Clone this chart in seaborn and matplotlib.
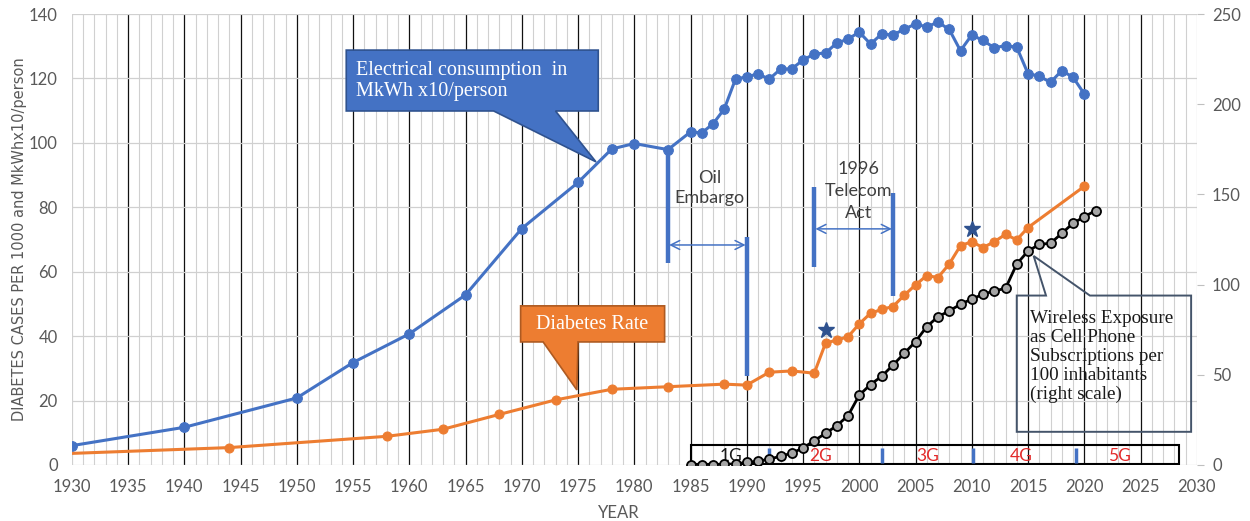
import numpy as np
import matplotlib
matplotlib.use("Agg")
import matplotlib.pyplot as plt
from matplotlib.patches import Polygon, Rectangle
import seaborn as sns

# electrical consumption (MkWh x10/person), left axis
elec_years = [1930, 1940, 1950, 1955, 1960, 1965, 1970, 1975, 1978, 1980, 1983,
              1985, 1986, 1987, 1988, 1989, 1990, 1991, 1992, 1993, 1994, 1995,
              1996, 1997, 1998, 1999, 2000, 2001, 2002, 2003, 2004, 2005, 2006,
              2007, 2008, 2009, 2010, 2011, 2012, 2013, 2014, 2015, 2016, 2017,
              2018, 2019, 2020]
elec_vals = [6.0, 11.7, 20.8, 31.8, 40.7, 52.8, 73.4, 87.7, 98.1, 99.8, 97.9,
             103.4, 103.1, 105.9, 110.5, 119.8, 120.5, 121.4, 119.8, 122.9, 123.0, 125.7,
             127.6, 127.9, 131.0, 132.2, 134.4, 130.7, 133.8, 133.5, 135.3, 136.9, 136.0,
             137.5, 135.2, 128.6, 133.5, 131.8, 129.5, 130.2, 129.7, 121.5, 120.7, 118.8,
             122.4, 120.4, 115.2]

# diabetes cases per 1000, left axis
diab_years = [1930, 1944, 1958, 1963, 1968, 1973, 1978, 1983, 1988, 1990, 1992,
              1994, 1996, 1997, 1998, 1999, 2000, 2001, 2002, 2003, 2004, 2005,
              2006, 2007, 2008, 2009, 2010, 2011, 2012, 2013, 2014, 2015, 2020]
diab_vals = [3.6, 5.4, 8.9, 11.1, 15.7, 20.2, 23.5, 24.3, 25.1, 24.8, 28.8,
             29.2, 28.5, 37.8, 38.8, 39.8, 43.8, 47.1, 48.3, 49.2, 52.7, 55.9,
             58.8, 58.2, 62.4, 68.1, 69.3, 67.5, 69.3, 71.6, 69.9, 73.7, 86.5]

# cell phone subscriptions per 100 inhabitants, right axis
cell_years = list(range(1985, 2022))
cell_vals = [0, 0, 0, 0.5, 0.5, 1.5, 2, 3.3, 4.8, 6.6, 9.4, 13.5, 17.5, 21.8,
             27.3, 38.7, 44.6, 49.2, 55.4, 61.9, 68.4, 76.7, 82.2, 85.4, 89.1,
             92.0, 94.6, 96.5, 97.9, 111.4, 118.6, 122.3, 122.9, 128.4, 134.0,
             137.6, 141.0]

# generations strip
gen_labels = ["1G", "2G", "3G", "4G", "5G"]
gen_label_x = [1988.6, 1996.6, 2006.1, 2014.4, 2023.1]
gen_colors = ["#1a1a1a", "#E32B2B", "#E32B2B", "#E32B2B", "#E32B2B"]
gen_breaks = [1992, 2002, 2010.1, 2019.3]
gen_span = [1985, 2028.4]

# event markers
oil_years = [1983, 1990]
telecom_years = [1996, 2003]
star_years = [1997, 2010]
star_vals = [41.9, 73.2]

BLUE = "#4472C4"
ORANGE = "#ED7D31"
TICK_GRAY = "#595959"

sns.set_theme(style="white")
plt.rcParams['font.family'] = ['Lato', 'DejaVu Sans']

fig = plt.figure(figsize=(12.5, 5.21), dpi=100)
ax = fig.add_axes([0.0574, 0.1075, 0.9, 0.8656])
ax2 = ax.twinx()

ax.set_xlim(1930, 2030)
ax.set_ylim(0, 140)
ax2.set_ylim(0, 250)

# grid: minor every year, major every 5 years black
ax.set_xticks(np.arange(1930, 2031, 5))
ax.set_xticks(np.arange(1930, 2031, 1), minor=True)
ax.set_yticks(np.arange(0, 141, 20))
ax2.set_yticks(np.arange(0, 251, 50))
ax.grid(which="minor", axis="x", color="#D0D0D0", linewidth=0.8)
ax.grid(which="major", axis="x", color="#111111", linewidth=0.9)
ax.grid(which="major", axis="y", color="#D0D0D0", linewidth=0.9)
gl = ax.get_xgridlines()
gl[0].set_color("#D0D0D0")
gl[-1].set_color("#D0D0D0")
ax.set_axisbelow(True)
for a in (ax, ax2):
    for s in a.spines.values():
        s.set_visible(False)

ax.tick_params(axis="x", which="both", length=0, pad=10, labelsize=12, labelcolor=TICK_GRAY)
ax.tick_params(axis="y", length=0, pad=10, labelsize=12, labelcolor=TICK_GRAY)
ax2.tick_params(axis="y", length=5, width=0.8, color="#BFBFBF", pad=6,
                labelsize=12, labelcolor=TICK_GRAY, right=True)

ax.set_xlabel("YEAR", fontsize=12, color=TICK_GRAY)
ax.xaxis.set_label_coords(0.4865, -0.088)
ax.set_ylabel("DIABETES CASES PER 1000 and MkWhx10/person", fontsize=10.5,
              color=TICK_GRAY, family="DejaVu Sans")
ax.yaxis.set_label_coords(-0.040, 0.5)

# series
sns.lineplot(x=elec_years, y=elec_vals, ax=ax, color=BLUE, linewidth=2.2,
             marker="o", markersize=7, markeredgecolor=BLUE, zorder=5)
sns.lineplot(x=diab_years, y=diab_vals, ax=ax, color=ORANGE, linewidth=2.2,
             marker="o", markersize=6.5, markeredgecolor=ORANGE,
             markevery=list(range(1, len(diab_years))), zorder=5)
sns.lineplot(x=cell_years, y=cell_vals, ax=ax2, color="black", linewidth=2.0,
             marker="o", markersize=6.5, markerfacecolor="#A5A5A5",
             markeredgecolor="black", markeredgewidth=1.3, zorder=5)

# stars
ax.plot(star_years, star_vals, linestyle="none", marker="*", markersize=12,
        color="#2F528F", zorder=6)


def callout(box, base, tip, face, edge, lw):
    x0, x1, yb, yt = box
    bx0, bx1 = base
    if tip[1] < yb:
        pts = [(x0, yt), (x1, yt), (x1, yb), (bx1, yb), tip, (bx0, yb), (x0, yb)]
    else:
        pts = [(x0, yt), (bx0, yt), tip, (bx1, yt), (x1, yt), (x1, yb), (x0, yb)]
    ax.add_patch(Polygon(pts, closed=True, facecolor=face, edgecolor=edge,
                         linewidth=lw, zorder=4))


# electrical consumption callout
callout((1954.4, 1976.8, 109.9, 128.8), (1967.5, 1973.0), (1976.6, 94.1),
        BLUE, "#2F528F", 1.2)
ax.text(1955.3, 119.2, "Electrical consumption  in\nMkWh x10/person",
        family="Liberation Serif", fontsize=14.5, color="white",
        va="center", ha="left", linespacing=1.1, zorder=7)

# diabetes callout
callout((1969.9, 1982.7, 38.2, 49.4), (1971.9, 1975.0), (1974.9, 23.3),
        ORANGE, "#AE5A21", 1.2)
ax.text(1976.3, 43.6, "Diabetes Rate", family="Liberation Serif", fontsize=14.5,
        color="white", va="center", ha="center", zorder=7)

# wireless callout (unfilled)
callout((2014.0, 2029.5, 10.3, 52.6), (2016.6, 2020.5), (2015.5, 64.9),
        "none", "#44546A", 1.4)
ax.text(2015.2, 33.6,
        "Wireless Exposure\nas Cell Phone\nSubscriptions per\n100 inhabitants\n(right scale)",
        family="Liberation Serif", fontsize=13.8, color="#1a1a1a",
        va="center", ha="left", linespacing=1.15, zorder=7)

# oil embargo
ax.vlines(oil_years, [62.7, 27.6], [98.1, 70.8], color=BLUE, linewidth=3.2, zorder=4)
ax.annotate("", xy=(oil_years[0] + 0.1, 68.3), xytext=(oil_years[1] - 0.1, 68.3),
            arrowprops=dict(arrowstyle="<->", color=BLUE, lw=1.1,
                            mutation_scale=16, shrinkA=0, shrinkB=0), zorder=4)
ax.text(1986.7, 86.0, "Oil\nEmbargo", fontsize=13, color="#404040",
        ha="center", va="center", linespacing=1.3, zorder=7)

# telecom act
ax.vlines(telecom_years, [61.4, 52.5], [86.3, 84.4], color=BLUE, linewidth=3.2, zorder=4)
ax.annotate("", xy=(telecom_years[0] + 0.1, 73.3), xytext=(telecom_years[1] - 0.1, 73.3),
            arrowprops=dict(arrowstyle="<->", color=BLUE, lw=1.1,
                            mutation_scale=16, shrinkA=0, shrinkB=0), zorder=4)
ax.text(1999.9, 85.0, "1996\nTelecom\nAct", fontsize=13, color="#404040",
        ha="center", va="center", linespacing=1.45, zorder=7)

# generations strip
ax.add_patch(Rectangle((gen_span[0], 0.3), gen_span[1] - gen_span[0], 5.9,
                       facecolor="none", edgecolor="black", linewidth=1.5, zorder=4))
ax.vlines(gen_breaks, 0.7, 5.3, color=BLUE, linewidth=2.5, zorder=4)
for lab, gx, gc in zip(gen_labels, gen_label_x, gen_colors):
    ax.text(gx, 2.9, lab, fontsize=12.5, color=gc, ha="center", va="center", zorder=7)

ax2.set_xlim(1930, 2030)
fig.savefig("out.png", dpi=100)
